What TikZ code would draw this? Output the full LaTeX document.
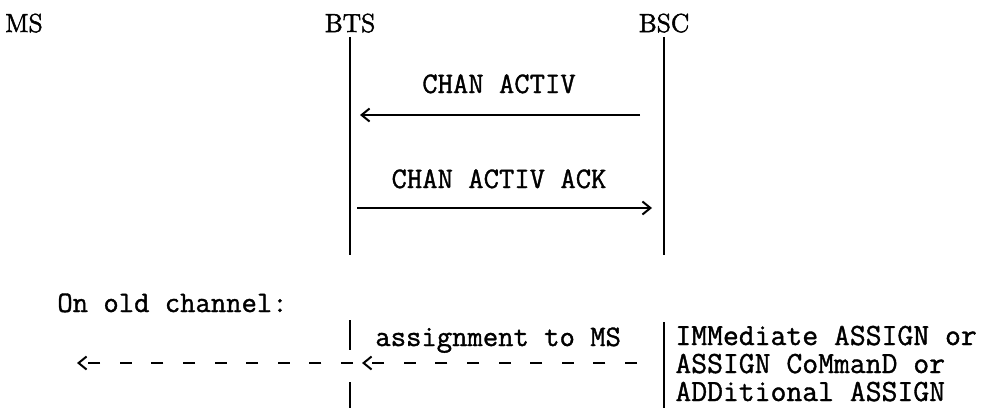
\documentclass[tikz,border=0pt]{standalone}
\usepackage{fontspec}
\newfontfamily\typefont{Latin Modern Mono}[BoldFont={Latin Modern Mono}, BoldFeatures={FakeBold=1.2}]
\newfontfamily\headfont{Latin Modern Roman}[BoldFont={Latin Modern Roman}, BoldFeatures={FakeBold=2}]
\usetikzlibrary{arrows.meta}

\tikzset{
  entity/.style={font=\fontsize{13}{15}\selectfont\headfont\bfseries, anchor=base, inner sep=2pt},
  msg/.style={font=\fontsize{14.9}{16}\selectfont\typefont\bfseries, anchor=base, inner sep=0pt},
  note/.style={msg, anchor=base west},
  side/.style={note, font=\fontsize{15.4}{16}\selectfont\typefont\bfseries},
  life/.style={line width=1.1pt},
  sig/.style={line width=0.7pt, -{Straight Barb[length=4pt,width=6.5pt,line width=1pt]}},
  sigdash/.style={sig, line width=1pt, dash pattern=on 6pt off 9.8pt},
}

\begin{document}
\begin{tikzpicture}[x=0.5pt, y=-0.5pt]
\useasboundingbox (0,0) rectangle (989,408);
%
\node[entity] (ms)  at (24,32)  {MS};
\node[entity] (bts) at (350,32) {BTS};
\node[entity] (bsc) at (664,32) {BSC};

\coordinate (bts end) at (350,255);
\coordinate (bsc end) at (664,255);
\draw[life] (bts.south) -- (bts end);
\draw[life] (bsc.south) -- (bsc end);

% channel activation
\node[msg] (activ) at (499,93)  {CHAN ACTIV};
\node[msg] (ack)   at (499,188) {CHAN ACTIV ACK};
\coordinate (activ from) at (640,115);
\coordinate (activ to)   at (360,115);
\coordinate (ack from)   at (357,208);
\coordinate (ack to)     at (652,208);
\draw[sig] (activ from) -- (activ to);
\draw[sig] (ack from) -- (ack to);

% on old channel
\node[note] (old)    at (57,312)  {On old channel:};
\node[note] (assign) at (375,346) {assignment to MS};
\node[side] (imm)    at (675,345) {IMMediate ASSIGN or};
\node[side] (cmd)    at (675,373) {ASSIGN CoMmanD or};
\node[side] (add)    at (675,401) {ADDitional ASSIGN};

\coordinate (bts a) at (350,320);
\coordinate (bts b) at (350,350);
\coordinate (bts c) at (350,382);
\coordinate (bts d) at (350,408);
\coordinate (bsc a) at (664,322);
\coordinate (bsc b) at (664,408);
\draw[life] (bts a) -- (bts b);
\draw[life] (bts c) -- (bts d);
\draw[life] (bsc a) -- (bsc b);

\coordinate (as from) at (637,363);
\coordinate (as to)   at (362,363);
\coordinate (ms from) at (353,363);
\coordinate (ms to)   at (77,363);
\draw[sigdash] (as from) -- (as to);
\draw[sigdash] (ms from) -- (ms to);
%
\end{tikzpicture}
\end{document}
